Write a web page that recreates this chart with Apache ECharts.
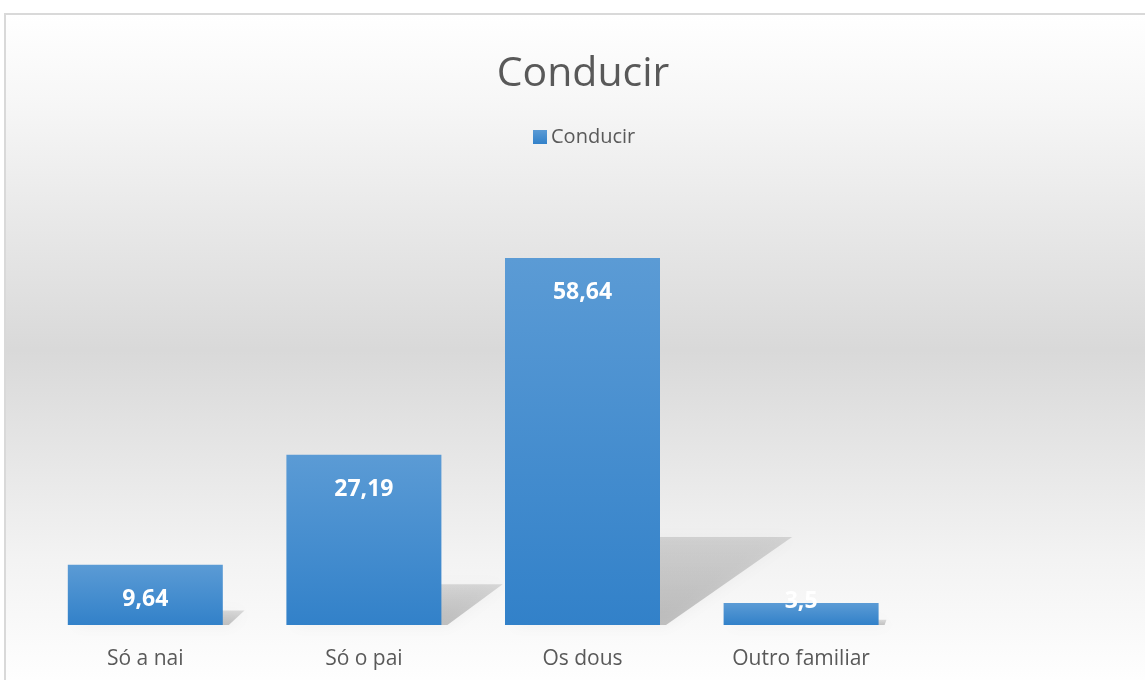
<!DOCTYPE html>
<html><head><meta charset="utf-8">
<script src="https://cdn.jsdelivr.net/npm/echarts@6/dist/echarts.min.js"></script>
<style>html,body{margin:0;padding:0;background:#fff}#c{width:1145px;height:680px}</style>
</head><body><div id="c"></div>
<script>
const categories = ['Só a nai', 'Só o pai', 'Os dous', 'Outro familiar', ''];
const values = [9.64, 27.19, 58.64, 3.5, null];
const labels = ['9,64', '27,19', '58,64', '3,5', ''];
const seriesName = 'Conducir';
const titleText = 'Conducir';

const chart = echarts.init(document.getElementById('c'));
const FONT = '"Open Sans", sans-serif';
const barGrad = new echarts.graphic.LinearGradient(0, 0, 0, 1, [
  {offset: 0, color: '#5b9bd5'}, {offset: 1, color: '#3281c9'}
]);
const barData = values.map((v, i) => {
  if (v == null) return null;
  const item = {value: v};
  if (v < 6) item.label = {position: 'top', distance: -10};
  return item;
});
chart.setOption({
  animation: false,
  graphic: [{
    type: 'rect', z: -10, silent: true,
    shape: {x: 5, y: 14, width: 1160, height: 700},
    style: {
      fill: new echarts.graphic.LinearGradient(0, 0, 0, 1, [
        {offset: 0, color: '#ffffff'},
        {offset: 0.12, color: '#f7f7f7'},
        {offset: 0.48, color: '#d9d9d9'},
        {offset: 0.78, color: '#f3f3f3'},
        {offset: 0.95, color: '#fefefe'},
        {offset: 1, color: '#ffffff'}
      ]),
      stroke: '#d9d9d9', lineWidth: 2
    }
  }],
  title: {
    text: titleText, left: 578, top: 49, textAlign: 'center',
    textStyle: {fontFamily: FONT, fontSize: 41, fontWeight: 'normal', color: '#595959'}
  },
  legend: {
    data: [seriesName], left: 528, top: 122, itemWidth: 14, itemHeight: 14, itemGap: 6,
    icon: 'rect',
    textStyle: {fontFamily: FONT, fontSize: 20, color: '#595959', padding: [0, 0, 0, -1]}
  },
  grid: {left: 36, right: 16, top: 187, bottom: 55},
  xAxis: {
    type: 'category', data: categories,
    axisLine: {show: false}, axisTick: {show: false},
    axisLabel: {fontFamily: FONT, fontSize: 21, color: '#595959', margin: 24}
  },
  yAxis: {type: 'value', min: 0, max: 70, show: false, splitLine: {show: false}},
  series: [
    {
      type: 'custom', name: 'shadow', silent: true, z: 1,
      data: values.map((v, i) => [i, v]),
      renderItem: function (params, api) {
        const v = api.value(1);
        if (v == null || isNaN(v)) return null;
        const base = api.coord([api.value(0), 0]);
        const top = api.coord([api.value(0), v]);
        const h = base[1] - top[1];
        const half = 155 / 2;
        const xL = base[0] - half, xR = base[0] + half;
        const dx = 0.36 * h, dy = 0.24 * h;
        return {
          type: 'polygon',
          shape: {points: [[xL + 6, base[1]], [xR + 6, base[1]], [xR + dx, base[1] - dy], [xL + dx, base[1] - dy]]},
          style: {
            fill: new echarts.graphic.LinearGradient(0, 1, 0, 0, [
              {offset: 0, color: 'rgba(0,0,0,0.22)'}, {offset: 1, color: 'rgba(0,0,0,0.12)'}
            ]),
            shadowBlur: 14, shadowColor: 'rgba(0,0,0,0.2)'
          }
        };
      }
    },
    {
      type: 'bar', name: seriesName, data: barData, barWidth: 155, z: 3,
      itemStyle: {color: barGrad},
      label: {
        show: true, position: 'insideTop', distance: 23,
        formatter: p => labels[p.dataIndex],
        fontFamily: FONT, fontSize: 23, fontWeight: 'bold', color: '#ffffff'
      }
    }
  ]
});
</script></body></html>
